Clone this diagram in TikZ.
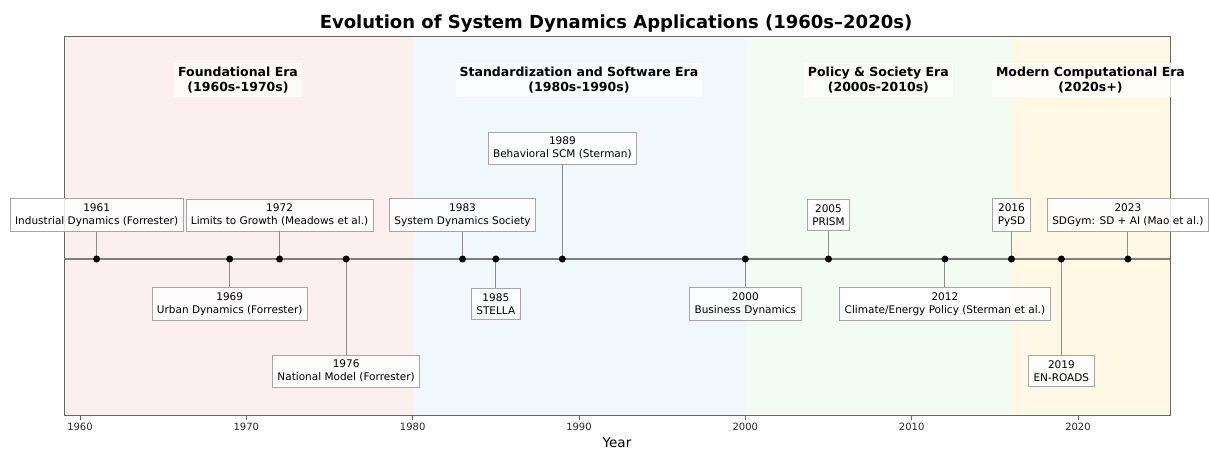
\documentclass[tikz,border=0pt]{standalone}
\usepackage{fontspec}
\setmainfont{DejaVu Sans}
\definecolor{bandA}{RGB}{251,239,239}
\definecolor{bandB}{RGB}{240,248,252}
\definecolor{bandC}{RGB}{242,252,242}
\definecolor{bandD}{RGB}{254,248,228}
\begin{document}
\begin{tikzpicture}[x=1pt,y=-1pt,
  evbox/.style={draw=black!35, line width=0.8pt, fill=white, fill opacity=0.85, text opacity=1,
    inner xsep=5pt, inner ysep=5pt, align=center, font=\fontsize{10.5}{13}\selectfont},
  eratitle/.style={fill=white, fill opacity=0.75, text opacity=1, inner xsep=4pt, inner ysep=4pt,
    align=center, font=\fontsize{12.5}{15.5}\selectfont\bfseries},
  stem/.style={draw=black!45, line width=0.9pt},
  evdot/.style={circle, fill=black, inner sep=0pt, minimum size=7pt},
  tick/.style={draw=black!60, line width=0.8pt},
  ticklab/.style={font=\fontsize{10}{12}\selectfont, text=black!85}
]
\useasboundingbox (0,0) rectangle (1209,451);
% era bands
\fill[bandA] (64,36) rectangle ({80+20*16.633},415.5);
\fill[bandB] ({80+20*16.633},36) rectangle ({80+40*16.633},415.5);
\fill[bandC] ({80+40*16.633},36) rectangle ({80+56*16.633},415.5);
\fill[bandD] ({80+56*16.633},36) rectangle (1170,415.5);
% frame
\draw[draw=black!60, line width=0.9pt] (64,36) rectangle (1170,415.5);
% title
\node[font=\fontsize{18}{21}\selectfont\bfseries] (title) at (616,24) {Evolution of System Dynamics Applications (1960s–2020s)};
% era titles
\node[eratitle] (e1) at ({80+9.5*16.633},80) {Foundational Era\\(1960s-1970s)};
\node[eratitle] (e2) at ({80+30*16.633},80) {Standardization and Software Era\\(1980s-1990s)};
\node[eratitle] (e3) at ({80+48*16.633},80) {Policy \& Society Era\\(2000s-2010s)};
\node[eratitle] (e4) at ({80+60.75*16.633},80) {Modern Computational Era\\(2020s+)};
% timeline
\coordinate (tlL) at (64,259);
\coordinate (tlR) at (1170,259);
\draw[draw=black!50, line width=1.8pt] (tlL) -- (tlR);
% event boxes
\foreach \yr/\ly/\txt in {
  1961/215/{Industrial Dynamics (Forrester)},
  1969/304/{Urban Dynamics (Forrester)},
  1972/215/{Limits to Growth (Meadows et al.)},
  1976/371/{National Model (Forrester)},
  1983/215/{System Dynamics Society},
  1985/304/{STELLA},
  1989/148/{Behavioral SCM (Sterman)},
  2000/304/{Business Dynamics},
  2005/215/{PRISM},
  2012/304/{Climate/Energy Policy (Sterman et al.)},
  2016/215/{PySD},
  2019/371/{EN-ROADS},
  2023/215/{SDGym: SD + AI (Mao et al.)}}{
  \coordinate (d\yr) at ({80+(\yr-1960)*16.633},259);
  \node[evbox] (b\yr) at ({80+(\yr-1960)*16.633},\ly) {\yr\\\txt};
  \draw[stem] (b\yr) -- (d\yr);
  \node[evdot] (p\yr) at (d\yr) {};
}
% ticks
\foreach \t in {1960,1970,1980,1990,2000,2010,2020}{
  \coordinate (t\t) at ({80+(\t-1960)*16.633},415.5);
  \coordinate (tb\t) at ({80+(\t-1960)*16.633},419.5);
  \draw[tick] (t\t) -- (tb\t);
  \node[ticklab, anchor=north] (tl\t) at ({80+(\t-1960)*16.633},420) {\t};
}
\node[font=\fontsize{13.5}{16}\selectfont] (xlab) at (617,443) {Year};
\end{tikzpicture}
\end{document}
